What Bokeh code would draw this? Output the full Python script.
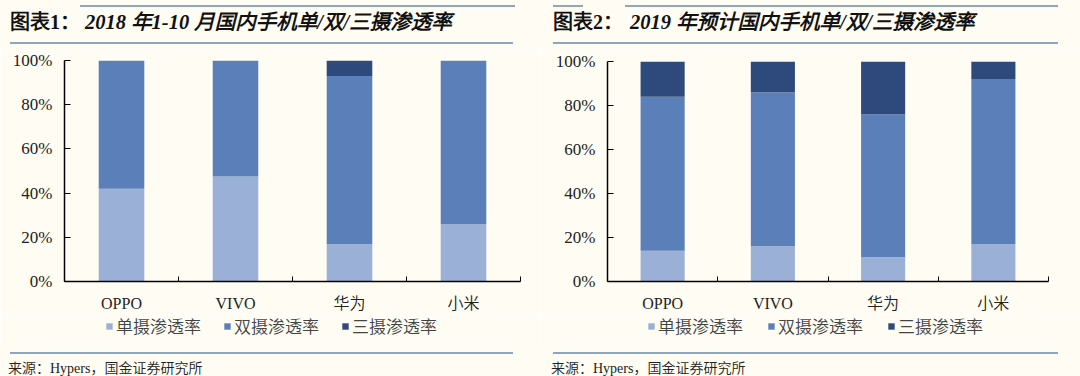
from bokeh.plotting import figure
from bokeh.layouts import row, column
from bokeh.models import (ColumnDataSource, Range1d, FixedTicker, Div,
                          Legend, LegendItem, NumeralTickFormatter)
from bokeh.embed import file_html
from bokeh.resources import INLINE

# ---------------- data ----------------
brands = ["OPPO", "VIVO", "华为", "小米"]
series_names = ["单摄渗透率", "双摄渗透率", "三摄渗透率"]

single_2018 = [0.42, 0.475, 0.17, 0.26]
dual_2018 = [0.58, 0.525, 0.76, 0.74]
triple_2018 = [0.0, 0.0, 0.07, 0.0]

single_2019 = [0.14, 0.16, 0.11, 0.17]
dual_2019 = [0.70, 0.70, 0.65, 0.75]
triple_2019 = [0.16, 0.14, 0.24, 0.08]

y_ticks = [0, 0.2, 0.4, 0.6, 0.8, 1.0]

title_2018 = "2018 年1-10 月国内手机单/双/三摄渗透率"
title_2019 = "2019 年预计国内手机单/双/三摄渗透率"
prefix_2018 = "图表1："
prefix_2019 = "图表2："
source_text = "来源：Hypers，国金证券研究所"

# ---------------- style ----------------
COLORS = ["#9BB0D6", "#5A7FB9", "#2E4A7D"]
BG = "#FFFDF3"
RULE = "#8BA6C0"
SERIF = "Liberation Serif, Noto Sans CJK SC DemiLight, Noto Sans CJK SC"
CJK = "Noto Sans CJK SC DemiLight, Noto Sans CJK SC"
W = 540
HEAD_H = 50          # header strip: 0 .. 50
CHART_BOTTOM = 314   # chart figure: 50 .. 314
LEG_H = 31           # legend strip: 314 .. 345
FOOT_H = 31          # footer strip: 345 .. 376
CHART_H = CHART_BOTTOM - HEAD_H


def rule_html(x0, x1, top):
    return (f'<div style="position:absolute;left:{x0}px;top:{top}px;width:{x1 - x0}px;'
            f'height:2px;background:{RULE};"></div>')


def header(prefix, title, prefix_x, title_x, top_rules, rx0, rx1):
    html = f'<div style="position:relative;width:{W}px;height:{HEAD_H}px;">'
    for a, b in top_rules:
        html += rule_html(a, b, 5)
    html += (f'<div style="position:absolute;left:{prefix_x}px;top:10px;font-family:{SERIF};'
             f'font-size:20px;font-weight:bold;color:#111;line-height:24px;white-space:nowrap;">{prefix}</div>')
    html += (f'<div style="position:absolute;left:{title_x}px;top:10px;font-family:{SERIF};'
             f'font-size:20.5px;font-weight:bold;font-style:italic;color:#111;line-height:24px;'
             f'white-space:nowrap;">{title}</div>')
    html += rule_html(rx0, rx1, 42)
    html += '</div>'
    return Div(text=html, width=W, height=HEAD_H, margin=0,
               styles={"background-color": BG})


def footer(rx0, rx1):
    html = f'<div style="position:relative;width:{W}px;height:{FOOT_H}px;">'
    html += rule_html(rx0, rx1, 7)
    html += (f'<div style="position:absolute;left:{rx0 - 2}px;top:16px;font-family:{SERIF};'
             f'font-size:14px;color:#222;line-height:16px;white-space:nowrap;">{source_text}</div>')
    html += '</div>'
    return Div(text=html, width=W, height=FOOT_H, margin=0,
               styles={"background-color": BG})


def make_source(single, dual, triple):
    return ColumnDataSource(dict(x=[i + 0.5 for i in range(len(brands))],
                                 single=single, dual=dual, triple=triple))


def make_chart(src, L, R, frame_top, frame_bottom):
    p = figure(width=W, height=CHART_H, output_backend="svg", toolbar_location=None,
               x_range=Range1d(0, len(brands)), y_range=Range1d(0, 1),
               min_border_left=L, min_border_right=R,
               min_border_top=frame_top - HEAD_H, min_border_bottom=CHART_BOTTOM - frame_bottom)
    p.background_fill_color = BG
    p.border_fill_color = BG
    p.outline_line_color = None
    p.grid.visible = False

    p.vbar_stack(["single", "dual", "triple"], x="x", width=0.4, color=COLORS,
                 line_color=None, source=src)

    ya = p.yaxis[0]
    ya.ticker = FixedTicker(ticks=y_ticks)
    ya.formatter = NumeralTickFormatter(format="0%")
    ya.major_tick_in = 6
    ya.major_tick_out = 0
    ya.minor_tick_line_color = None
    ya.axis_line_width = 1.5
    ya.axis_line_color = "#000000"
    ya.major_tick_line_color = "#000000"
    ya.major_label_text_font = SERIF
    ya.major_label_text_font_size = "17px"
    ya.major_label_text_color = "#222222"
    ya.major_label_standoff = 12

    xa = p.xaxis[0]
    xa.ticker = FixedTicker(ticks=[i + 0.5 for i in range(len(brands))],
                            minor_ticks=list(range(len(brands) + 1)))
    xa.major_label_overrides = {i + 0.5: b for i, b in enumerate(brands)}
    xa.major_tick_line_color = None
    xa.minor_tick_in = 5
    xa.minor_tick_out = 0
    xa.minor_tick_line_color = "#000000"
    xa.axis_line_width = 1.5
    xa.axis_line_color = "#000000"
    xa.major_label_text_font = SERIF
    xa.major_label_text_font_size = "16px"
    xa.major_label_text_color = "#222222"
    xa.major_label_standoff = 7
    return p


def make_legend_strip(src, legend_x, spacing):
    # a strip that only shows the legend; its swatches come from the same stacked series.
    # In a column its frame is aligned with the chart's frame, so legend_x is frame-relative.
    q = figure(width=W, height=LEG_H, output_backend="svg", toolbar_location=None,
               x_range=Range1d(100, 101), y_range=Range1d(100, 101),
               x_axis_type=None, y_axis_type=None, min_border=0)
    q.background_fill_color = BG
    q.border_fill_color = BG
    q.outline_line_color = None
    q.grid.visible = False
    rs = q.vbar_stack(["single", "dual", "triple"], x="x", width=0.4, color=COLORS,
                      line_color=None, source=src)
    items = [LegendItem(label=n, renderers=[r]) for n, r in zip(series_names, rs)]
    leg = Legend(items=items, orientation="horizontal", location=(legend_x, 7),
                 background_fill_alpha=0, border_line_color=None, padding=0, margin=0,
                 glyph_width=8, glyph_height=8, label_standoff=3, spacing=spacing,
                 label_text_font=CJK, label_text_font_size="17px",
                 label_text_color="#444444", label_height=20)
    q.add_layout(leg, "center")
    return q


src18 = make_source(single_2018, dual_2018, triple_2018)
src19 = make_source(single_2019, dual_2019, triple_2019)

left = column(
    header(prefix_2018, title_2018, 10, 85, [(80, 515)], 10, 513),
    make_chart(src18, L=64, R=20, frame_top=60, frame_bottom=282),
    make_legend_strip(src18, 41, 22),
    footer(10, 513))
right = column(
    header(prefix_2019, title_2019, 13, 90, [(13, 43), (85, 518)], 13, 518),
    make_chart(src19, L=67, R=32, frame_top=61, frame_bottom=283),
    make_legend_strip(src19, 40, 24),
    footer(13, 518))

layout = row(left, right)
open("out.html", "w").write(file_html(layout, INLINE))
